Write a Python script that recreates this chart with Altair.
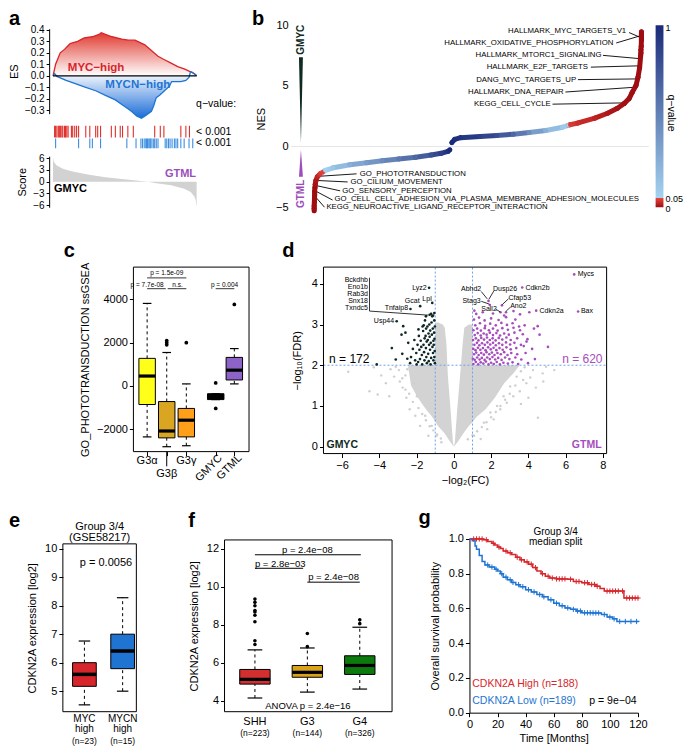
import altair as alt
import pandas as pd

FONT = "Liberation Sans"
RED = "#d7262b"
BLUE = "#1f74d2"
PURPLE = "#9c4dbb"
DARK = "#0f2a22"
GRAY = "#d3d3d3"
ONE = pd.DataFrame({"k": [0]})

# ---------------- data: panel a ----------------
es_rank_myc = [0, 1.8, 3.4, 5.0, 8.0, 10.3, 11.9, 17.1, 21.7, 27.4, 32.0, 33.6, 36.5, 41.1, 47.9, 52.5,
               57.1, 63.9, 68.5, 73.1, 77.6, 82.2, 86.8, 91.3, 94.7, 97.0, 99.3, 100]
es_myc = [0, 0.10, 0.15, 0.20, 0.23, 0.26, 0.28, 0.30, 0.33, 0.34, 0.36, 0.375, 0.36, 0.34, 0.32, 0.31,
          0.31, 0.27, 0.22, 0.17, 0.14, 0.11, 0.08, 0.06, 0.04, 0.03, 0.01, 0]
es_rank_mycn = [0, 1.1, 2.7, 9.1, 16.0, 22.8, 29.7, 36.5, 43.4, 47.9, 51.4, 54.8, 58.2, 61.6, 65.1, 68.5,
                70.1, 71.9, 74.2, 77.6, 81.1, 82.6, 89.0, 92.5, 94.7, 95.7, 98.2, 100]
es_mycn = [0, 0.02, -0.005, -0.04, -0.07, -0.10, -0.13, -0.17, -0.21, -0.25, -0.28, -0.31, -0.35, -0.37,
           -0.34, -0.31, -0.26, -0.19, -0.17, -0.13, -0.09, -0.05, -0.05, -0.04, -0.014, 0.035, 0.02, 0]
hits_myc = [1.1, 1.8, 2.7, 3.7, 4.6, 5.3, 6.2, 6.8, 8.0, 8.7, 9.6, 10.5, 12.8, 13.7, 15.1, 16.4, 17.8,
            22.8, 25.6, 29.7, 31.1, 33.1, 40.6, 43.4, 46.8, 48.4, 52.1, 55.9, 70.8, 74.7, 77.2, 89.0,
            92.5, 95.0]
hits_mycn = [1.8, 17.8, 25.6, 27.4, 33.1, 51.4, 57.8, 61.2, 62.3, 63.5, 64.6, 65.1, 65.8, 66.7, 67.4,
             68.0, 68.9, 70.1, 70.8, 71.9, 73.1, 78.1, 79.2, 80.4, 81.5, 82.9, 84.5, 85.6, 86.8, 89.0,
             91.3, 94.7, 97.3]
score_rank = [0, 0.6, 2.3, 6.8, 13.7, 25.1, 36.5, 47.9, 59.4, 66.2, 70.8, 82.2, 91.3, 95.9, 98.5, 99.3, 100]
score_val = [6.2, 5.0, 4.2, 3.3, 2.6, 1.8, 1.15, 0.7, 0.27, 0, -0.3, -0.9, -1.8, -2.6, -3.8, -4.6, -6.5]

# ---------------- data: panel b ----------------
b_rank = [6.44, 6.44, 6.44, 6.49, 6.52, 6.58, 6.58, 6.66, 6.74, 6.93, 7.32, 7.81, 8.22, 8.9, 9.59, 11.78,
          16.44, 21.1, 25.48, 30.14, 34.79, 39.18, 41.92, 43.84, 44.38,
          44.93, 45.75, 47.4, 52.88, 57.53, 62.19, 66.58, 71.23, 75.89, 77.53, 78.08, 80.27, 84.93, 88.49,
          91.23, 93.15, 94.52, 95.34, 96.44, 96.99, 97.45, 97.73, 97.81, 97.81, 97.89, 97.95, 97.95, 97.95, 97.95]
b_nes = [-5.3, -5.1, -4.9, -4.6, -4.3, -4.0, -3.7, -3.4, -3.1, -2.8, -2.5, -2.35, -2.23, -2.1, -1.96, -1.75,
         -1.5, -1.34, -1.18, -1.02, -0.89, -0.7, -0.56, -0.4, -0.27,
         0.32, 0.59, 0.73, 0.83, 0.91, 1.02, 1.16, 1.32, 1.59, 1.75, 1.8, 1.94, 2.34, 2.74, 3.15, 3.55, 3.95,
         4.44, 5.03, 5.7, 6.5, 7.45, 7.7, 7.95, 8.25, 8.8, 9.0, 9.2, 9.45]
b_q = [0, 0, 0, 0, 0, 0, 0, 0, 0.005, 0.01, 0.02, 0.03, 0.04, 0.045, 0.06, 0.12, 0.25, 0.35, 0.45, 0.55,
       0.65, 0.78, 0.88, 0.95, 1.0,
       1.0, 0.98, 0.95, 0.88, 0.8, 0.65, 0.45, 0.25, 0.1, 0.055, 0.04, 0.03, 0.02, 0.01, 0.005, 0.003, 0.002,
       0.001, 0, 0, 0, 0, 0, 0, 0, 0, 0, 0, 0]
b_up_names = ["HALLMARK_MYC_TARGETS_V1", "HALLMARK_OXIDATIVE_PHOSPHORYLATION", "HALLMARK_MTORC1_SIGNALING",
              "HALLMARK_E2F_TARGETS", "DANG_MYC_TARGETS_UP", "HALLMARK_DNA_REPAIR", "KEGG_CELL_CYCLE"]
b_up_x = [93.7, 90.1, 86.8, 83.0, 79.7, 76.2, 72.6]
b_up_y = [9.52, 8.53, 7.51, 6.54, 5.51, 4.49, 3.49]
b_lo_names = ["GO_PHOTOTRANSDUCTION", "GO_CILIUM_MOVEMENT", "GO_SENSORY_PERCEPTION",
              "GO_CELL_CELL_ADHESION_VIA_PLASMA_MEMBRANE_ADHESION_MOLECULES",
              "KEGG_NEUROACTIVE_LIGAND_RECEPTOR_INTERACTION"]
b_lo_x = [19.2, 16.6, 14.3, 12.1, 9.86]
b_lo_y = [-2.25, -2.92, -3.64, -4.33, -5.0]
b_leaders = [(94.5, 9.39, 97.5, 9.01), (90.9, 8.53, 97.7, 9.13), (87.2, 7.51, 97.5, 7.24),
             (83.8, 6.54, 97.5, 6.65), (80.2, 5.51, 96.8, 5.57), (76.7, 4.49, 96.4, 4.89),
             (73.1, 3.49, 94.1, 3.6), (18.3, -2.25, 6.85, -2.47), (15.8, -2.92, 6.66, -2.79),
             (13.7, -3.65, 6.58, -3.19), (11.6, -4.41, 6.38, -3.6), (9.32, -5.0, 6.38, -4.0)]

# ---------------- data: panel c ----------------
c_groups = ["G3α", "G3β", "G3γ", "GMYC", "GTML"]
c_pos = [1, 2, 3, 4.5, 5.45]
c_q1 = [-864, -2409, -2364, -636, 273]
c_med = [455, -2091, -1590, -500, 727]
c_q3 = [1273, -727, -1045, -364, 1318]
c_wlo = [-2364, -2818, -2773, -636, 91]
c_whi = [3818, 1545, 91, -364, 1727]
c_fill = ["#ffff1a", "#daa520", "#ff9f1a", "#000000", "#8e63c7"]
c_out_pos = [2, 2, 2, 3, 4.5, 4.5, 5.45]
c_out_val = [2100, 2000, 1900, 2000, 136, -1045, 3773]

# ---------------- data: panel d ----------------
d_lobe_left = [(-2.45, 1.95, 2.0), (-2.3, 1.5, 2.0), (-2.0, 1.25, 2.0), (-1.7, 1.05, 2.0), (-1.5, 0.92, 2.0),
               (-1.2, 0.75, 2.0), (-1.0, 0.62, 2.0), (-0.999, 0.62, 3.05), (-0.85, 0.51, 3.05),
               (-0.6, 0.38, 3.0), (-0.49, 0.32, 2.92), (-0.4, 0.26, 2.52), (-0.32, 0.2, 1.72),
               (-0.18, 0.11, 0.92), (-0.05, 0.03, 0.1), (0.0, 0.0, 0.0)]
d_lobe_right = [(0.0, 0.0, 0.0), (0.05, 0.03, 0.1), (0.18, 0.1, 0.92), (0.33, 0.2, 1.72), (0.47, 0.3, 2.52),
                (0.56, 0.36, 2.92), (0.8, 0.51, 3.0), (1.0, 0.6, 3.0), (1.001, 0.6, 2.0), (1.2, 0.72, 2.0),
                (1.7, 0.92, 2.0), (2.2, 1.2, 2.0), (2.7, 1.56, 2.0), (3.2, 1.8, 2.0), (3.5, 1.98, 2.0)]
d_gray_x = [-4.53, -4.09, -3.65, -3.47, -3.21, -2.95, -3.12, -2.77, -2.6, -5.67, -2.37, -2.07, -1.81, -1.37,
            -0.67, -2.16, -1.98, -1.54, -1.19, -0.93, 3.89, 3.54, 3.19, 2.84, 2.49, 2.14, 1.79, 1.44, 4.51,
            4.25, 4.95, 5.39, 4.77, 3.37, 3.72, 3.02, 2.67, 2.32, 1.96, 1.61, 1.09,
            -2.6, -2.5, -2.9, -2.4, -2.2, -1.9, -1.7, -1.5, -1.3, -1.1, -0.9, -0.7, -3.4, -3.9, -4.3, -2.55,
            -2.75, 3.6, 3.8, 4.1, 3.3, 3.0, 2.75, 2.5, 2.25, 2.0, 1.75, 1.5, 1.25, 1.0, 0.75, 4.4, 4.0, 3.6,
            4.8]
d_gray_y = [1.36, 1.28, 1.56, 1.24, 1.72, 1.88, 1.96, 1.68, 1.4, 1.84, 0.92, 0.76, 0.51, 0.27, 0.11, 1.56,
            1.24, 0.76, 0.51, 0.27, 1.56, 1.36, 1.24, 1.08, 0.92, 0.67, 0.43, 0.19, 0.71, 1.88, 1.96, 1.88,
            1.8, 1.72, 1.64, 1.48, 1.24, 1.0, 0.84, 0.59, 0.27,
            1.75, 1.9, 1.6, 1.3, 1.1, 0.95, 0.8, 0.65, 0.5, 0.4, 0.3, 0.2, 1.9, 1.75, 1.95, 1.2,
            1.45, 1.85, 1.95, 1.7, 1.5, 1.3, 1.15, 1.0, 0.85, 0.72, 0.6, 0.48, 0.38, 0.28, 0.18, 1.45, 1.2, 1.05,
            1.6]
d_down = [(-1.02, 2.05), (-1.05, 2.2), (-1.03, 2.35), (-1.08, 2.5), (-1.04, 2.65), (-1.06, 2.8), (-1.02, 2.95),
          (-1.05, 3.1), (-1.1, 2.12), (-1.12, 2.3), (-1.15, 2.45), (-1.1, 2.6), (-1.18, 2.75), (-1.13, 2.9),
          (-1.2, 3.05), (-1.16, 3.2), (-1.25, 2.02), (-1.22, 2.18), (-1.28, 2.38), (-1.24, 2.55), (-1.3, 2.7),
          (-1.27, 2.85), (-1.32, 3.0), (-1.35, 2.1), (-1.38, 2.28), (-1.33, 2.5), (-1.4, 2.62), (-1.36, 2.78),
          (-1.42, 2.95), (-1.45, 2.05), (-1.48, 2.2), (-1.5, 2.42), (-1.46, 2.58), (-1.52, 2.72), (-1.49, 2.9),
          (-1.55, 3.1), (-1.58, 2.12), (-1.6, 2.32), (-1.63, 2.5), (-1.57, 2.66), (-1.65, 2.84), (-1.7, 2.02),
          (-1.72, 2.25), (-1.75, 2.45), (-1.68, 2.95), (-1.78, 2.6), (-1.82, 2.15), (-1.85, 2.38), (-1.88, 2.72),
          (-1.92, 2.08), (-1.95, 2.5), (-2.02, 2.3), (-2.08, 2.12), (-2.12, 2.62), (-2.2, 2.4), (-2.3, 2.2),
          (-2.35, 2.05), (-2.45, 2.55), (-2.5, 2.16), (-2.6, 2.8), (-2.72, 2.96), (-2.77, 2.28), (-2.81, 2.75),
          (-3.12, 2.14), (-3.33, 2.42), (-4.14, 2.02), (-3.07, 3.08), (-2.33, 3.38), (-1.81, 3.45), (-1.33, 3.9),
          (-1.16, 3.53), (-1.3, 3.24), (-1.22, 3.26), (-1.12, 3.22), (-1.05, 3.28), (-1.5, 3.2), (-1.9, 2.88),
          (-2.0, 2.02), (-1.62, 2.98)]
d_up = [(1.05, 2.03), (1.18, 2.08), (1.31, 2.02), (1.44, 2.07), (1.58, 2.04), (1.72, 2.09), (1.86, 2.02),
        (2.0, 2.06), (2.14, 2.03), (2.3, 2.08), (2.47, 2.02), (2.66, 2.06), (2.9, 2.04), (3.15, 2.07),
        (3.45, 2.03), (3.98, 2.05), (1.02, 2.16), (1.12, 2.13), (1.25, 2.19), (1.38, 2.14), (1.5, 2.18),
        (1.65, 2.13), (1.79, 2.19), (1.93, 2.15), (2.07, 2.2), (2.22, 2.14), (2.38, 2.18), (2.56, 2.13),
        (2.75, 2.19), (2.98, 2.15), (3.3, 2.19), (3.62, 2.14), (1.08, 2.27), (1.2, 2.31), (1.33, 2.25),
        (1.47, 2.3), (1.61, 2.26), (1.75, 2.32), (1.9, 2.27), (2.04, 2.31), (2.18, 2.25), (2.34, 2.3),
        (2.52, 2.27), (2.7, 2.32), (2.88, 2.25), (3.08, 2.3), (3.4, 2.27), (3.85, 2.3), (1.04, 2.4),
        (1.16, 2.37), (1.29, 2.43), (1.42, 2.38), (1.56, 2.42), (1.7, 2.37), (1.84, 2.44), (1.98, 2.39),
        (2.13, 2.43), (2.28, 2.37), (2.45, 2.42), (2.62, 2.38), (2.82, 2.44), (3.05, 2.39), (3.35, 2.42),
        (4.2, 2.4), (5.05, 2.45), (1.1, 2.5), (1.24, 2.55), (1.37, 2.49), (1.51, 2.54), (1.66, 2.5),
        (1.8, 2.56), (1.95, 2.51), (2.1, 2.55), (2.25, 2.49), (2.42, 2.54), (2.6, 2.5), (2.8, 2.56),
        (3.02, 2.51), (3.25, 2.55), (3.6, 2.5), (1.03, 2.62), (1.18, 2.66), (1.32, 2.61), (1.47, 2.67),
        (1.62, 2.63), (1.78, 2.68), (1.93, 2.62), (2.08, 2.66), (2.24, 2.61), (2.41, 2.67), (2.6, 2.63),
        (2.82, 2.68), (3.05, 2.62), (3.4, 2.66), (3.95, 2.64), (1.12, 2.74), (1.28, 2.79), (1.44, 2.73),
        (1.6, 2.78), (1.76, 2.75), (1.93, 2.8), (2.1, 2.74), (2.28, 2.79), (2.48, 2.73), (2.7, 2.78),
        (2.95, 2.75), (3.25, 2.8), (3.7, 2.76), (4.6, 2.75), (1.05, 2.86), (1.25, 2.9), (1.45, 2.85),
        (1.66, 2.91), (1.88, 2.86), (2.1, 2.9), (2.35, 2.85), (2.6, 2.91), (2.9, 2.87), (3.2, 2.92),
        (3.55, 2.86), (4.3, 2.9), (1.15, 2.98), (1.4, 3.03), (1.68, 2.97), (1.95, 3.02), (2.25, 2.98),
        (2.55, 3.04), (2.85, 2.99), (3.15, 3.03), (3.8, 2.98), (4.5, 2.96), (1.08, 3.12), (1.35, 3.17),
        (1.65, 3.1), (2.0, 3.15), (2.4, 3.11), (2.8, 3.18), (3.3, 3.12), (3.55, 3.25), (1.2, 3.26),
        (1.55, 3.3), (2.1, 3.27), (2.7, 3.22), (3.2, 3.33), (4.05, 3.3), (1.1, 3.34), (3.75, 2.47),
        (4.35, 2.15), (3.9, 2.58), (3.5, 2.95), (1.86, 3.58), (1.93, 3.48), (2.58, 3.47), (2.5, 3.3),
        (2.8, 3.3), (3.67, 3.91), (4.42, 3.34), (6.46, 4.23), (6.67, 3.32)]
d_lbl_names = ["Bckdhb", "Eno1b", "Rab3d", "Snx18", "Txndc5", "Usp44", "Tnfaip8", "Gcat", "Lpl", "Lyz2",
               "Abhd2", "Stag3", "Dusp26", "Cdkn2b", "Cfap53", "Sall2", "Ano2", "Cdkn2a", "Mycs", "Bax"]
d_lbl_x = [-4.61, -4.61, -4.61, -4.61, -4.61, -3.21, -2.46, -1.84, -1.19, -1.46, 1.47, 1.44, 2.1, 3.84,
           2.93, 1.47, 3.02, 4.6, 6.65, 6.82]
d_lbl_y = [4.09, 3.91, 3.74, 3.57, 3.40, 3.08, 3.41, 3.57, 3.62, 3.9, 3.86, 3.57, 3.87, 3.89, 3.66, 3.38,
           3.46, 3.34, 4.23, 3.33]
d_lbl_align = ["right"] * 12 + ["left"] * 8
d_leaders = [(-4.53, 4.15, -4.53, 3.33), (-4.53, 3.33, -1.37, 3.23), (1.47, 3.81, 1.79, 3.63),
             (2.14, 3.82, 1.88, 3.62), (1.47, 3.57, 1.91, 3.5), (2.93, 3.63, 2.6, 3.49),
             (2.23, 3.38, 2.49, 3.31), (3.02, 3.42, 2.81, 3.33)]

# ---------------- data: panel e ----------------
e_groups = ["MYC high", "MYCN high"]
e_pos = [1, 2]
e_q1 = [5.17, 5.79]
e_med = [5.59, 6.41]
e_q3 = [6.0, 7.0]
e_wlo = [4.52, 5.0]
e_whi = [6.76, 8.28]
e_fill = ["#d7262b", "#1f74d2"]

# ---------------- data: panel f ----------------
f_groups = ["SHH", "G3", "G4"]
f_pos = [1, 2, 3]
f_q1 = [4.88, 5.24, 5.39]
f_med = [5.13, 5.5, 5.86]
f_q3 = [5.65, 5.86, 6.37]
f_wlo = [4.15, 4.46, 4.62]
f_whi = [6.68, 6.78, 7.87]
f_fill = ["#d32f2f", "#d9a21b", "#0d7a0d"]
f_out_pos = [1, 1, 1, 1, 1, 1, 1, 1, 1, 2, 2, 3, 3]
f_out_val = [9.35, 9.18, 9.0, 8.75, 8.67, 8.5, 8.16, 7.16, 6.96, 7.54, 6.85, 8.26, 8.06]

# ---------------- data: panel g ----------------
g_hi_t = [0, 8, 10, 13, 16, 18, 20, 22, 24, 27, 30, 33, 36, 39, 42, 45, 48, 51, 54, 57, 62, 70, 74, 80, 85,
          90, 93, 96, 108, 110, 120.5]
g_hi_s = [1.0, 1.0, 0.995, 0.985, 0.975, 0.965, 0.953, 0.945, 0.93, 0.92, 0.91, 0.895, 0.88, 0.868, 0.855,
          0.835, 0.815, 0.80, 0.785, 0.775, 0.77, 0.768, 0.755, 0.748, 0.738, 0.728, 0.715, 0.70, 0.70, 0.66,
          0.66]
g_lo_t = [0, 2, 4, 5, 7, 9, 11, 14, 18, 20, 22, 24, 27, 30, 33, 36, 40, 44, 48, 52, 56, 60, 64, 68, 72, 76,
          80, 88, 94, 98, 102, 105, 120.5]
g_lo_s = [1.0, 0.99, 0.96, 0.94, 0.905, 0.87, 0.85, 0.838, 0.825, 0.815, 0.8, 0.78, 0.765, 0.75, 0.737,
          0.725, 0.708, 0.695, 0.68, 0.667, 0.65, 0.63, 0.615, 0.603, 0.595, 0.585, 0.575, 0.574, 0.565, 0.55,
          0.54, 0.525, 0.523]
g_hi_cens = [3, 5, 7, 9, 12, 17, 21, 26, 29, 34, 37, 41, 44, 47, 52, 56, 59, 62, 64, 66, 68, 72, 76, 78, 82,
             84, 87, 89, 91, 98, 100, 102, 104, 106, 109, 112, 114, 116, 118, 120]
g_lo_cens = [13, 16, 19, 23, 26, 29, 31, 35, 38, 42, 46, 50, 53, 58, 62, 66, 70, 74, 77, 79, 82, 84, 86, 88,
             90, 92, 96, 100, 103, 107, 111, 115, 119]

# ---------------- canvas: one layered chart, every panel has its own scales ----------------
W, H = 677, 740
KX = W / 691.0
KY = H / 754.0


def P(x):
    return round((x - 1) * KX, 2)


def Q(y):
    return round((y - 1) * KY, 2)


def scales(xdom, xpx, ydom, ypx):
    xs = alt.Scale(domain=xdom, range=[P(xpx[0]), P(xpx[1])], nice=False, zero=False)
    ys = alt.Scale(domain=ydom, range=[Q(ypx[1]), Q(ypx[0])], nice=False, zero=False)

    def X(f, ax=None):
        return alt.X(f, type="quantitative", scale=xs, axis=ax)

    def Y(f, ax=None):
        return alt.Y(f, type="quantitative", scale=ys, axis=ax)
    return X, Y


def left_axis(xpx, **kw):
    return alt.Axis(orient="left", offset=-P(xpx), grid=False, labelFlush=False, **kw)


def bottom_axis(ypx, **kw):
    return alt.Axis(orient="bottom", offset=round(Q(ypx) - H, 2), grid=False, labelFlush=False, **kw)


def label(text, x, y, size=10.0, color="black", weight="normal", align="left", baseline="middle", angle=0):
    kw = dict(text=text, fontSize=size, color=color, fontWeight=weight, align=align,
              baseline=baseline, font=FONT)
    if angle:
        kw["angle"] = angle
    return alt.Chart(ONE).mark_text(**kw).encode(x=alt.value(P(x)), y=alt.value(Q(y)))


def letter(t, x, y):
    return label(t, x, y, size=20, weight="bold", baseline="alphabetic")


def frame(x0, x1, y0, y1):
    return alt.Chart(ONE).mark_rect(fillOpacity=0, stroke="black", strokeWidth=1).encode(
        x=alt.value(P(x0)), x2=alt.value(P(x1)), y=alt.value(Q(y0)), y2=alt.value(Q(y1)))


def box_layers(groups, pos, q1, med, q3, wlo, whi, fills, X, Y, half, cap, dash, yaxis, xaxis, medw=3.0):
    d = pd.DataFrame({"g": groups, "pos": pos, "q1": q1, "med": med, "q3": q3, "wlo": wlo, "whi": whi,
                      "fill": fills})
    d["xl"] = d["pos"] - half
    d["xr"] = d["pos"] + half
    d["cl"] = d["pos"] - cap
    d["cr"] = d["pos"] + cap
    base = alt.Chart(d)
    boxes = base.mark_rect(stroke="black", strokeWidth=1).encode(
        x=X("xl", xaxis), x2="xr", y=Y("q1", yaxis), y2="q3", fill=alt.Fill("fill:N", scale=None))
    w_hi = base.mark_rule(color="black", strokeDash=dash, strokeWidth=1).encode(x=X("pos"), y=Y("q3"), y2="whi")
    w_lo = base.mark_rule(color="black", strokeDash=dash, strokeWidth=1).encode(x=X("pos"), y=Y("wlo"), y2="q1")
    c_hi = base.mark_rule(color="black", strokeWidth=1.2).encode(x=X("cl"), x2="cr", y=Y("whi"))
    c_lo = base.mark_rule(color="black", strokeWidth=1.2).encode(x=X("cl"), x2="cr", y=Y("wlo"))
    meds = base.mark_rule(color="black", strokeWidth=medw).encode(x=X("xl"), x2="xr", y=Y("med"))
    return [boxes, w_hi, w_lo, c_hi, c_lo, meds]


layers = []

# ================= panel a =================
XA, YES = scales([-2.7, 101], (43, 195), [-0.33, 0.41], (22.1, 108.7))
_, YBC = scales([-2.7, 101], (43, 195), [0, 1], (108.7, 152))
_, YSC = scales([-2.7, 101], (43, 195), [-6.5, 6.5], (152, 204))
es_axis = left_axis(43, values=[0.4, 0.3, 0.2, 0.1, 0.0, -0.1, -0.2, -0.3], format=".1f", title="ES",
                    labelFontSize=10, tickSize=3, titlePadding=5, domain=True)
score_axis = left_axis(43, values=[6, 3, 0, -3, -6], format="d", title="Score", labelFontSize=10, tickSize=3,
                       titlePadding=5, domain=True)
df_myc = pd.DataFrame({"rank": es_rank_myc, "es": es_myc, "zero": 0.0})
df_mycn = pd.DataFrame({"rank": es_rank_mycn, "es": es_mycn, "zero": 0.0})
grad_red = alt.Gradient(gradient="linear", stops=[alt.GradientStop(color="#e03a30", offset=0),
                                                  alt.GradientStop(color="#ffffff", offset=1)],
                        x1=0, x2=0, y1=0, y2=1)
grad_blue = alt.Gradient(gradient="linear", stops=[alt.GradientStop(color="#ffffff", offset=0),
                                                   alt.GradientStop(color="#1a6cd8", offset=1)],
                         x1=0, x2=0, y1=0, y2=1)
bc_df = pd.DataFrame({
    "rank": hits_myc + hits_mycn,
    "y0": [0.716] * len(hits_myc) + [0.416] * len(hits_mycn),
    "y1": [0.439] * len(hits_myc) + [0.185] * len(hits_mycn),
    "c": ["#e0302a"] * len(hits_myc) + ["#3b8ee0"] * len(hits_mycn),
})
score_df = pd.DataFrame({"rank": score_rank, "s": score_val, "zero": 0.0})
layers += [
    alt.Chart(df_myc).mark_area(fill=grad_red).encode(x=XA("rank"), y=YES("es", es_axis), y2="zero"),
    alt.Chart(df_mycn).mark_area(fill=grad_blue).encode(x=XA("rank"), y=YES("es"), y2="zero"),
    alt.Chart(df_myc).mark_line(color=RED, strokeWidth=1.3).encode(x=XA("rank"), y=YES("es")),
    alt.Chart(df_mycn).mark_line(color=BLUE, strokeWidth=1.3).encode(x=XA("rank"), y=YES("es")),
    alt.Chart(pd.DataFrame({"r0": [0], "r1": [100], "z": [0]})).mark_rule(
        color="black", strokeWidth=1.3).encode(x=XA("r0"), x2="r1", y=YES("z")),
    alt.Chart(pd.DataFrame({"rank": [30.0, 59.0], "es": [0.068, -0.077], "t": ["MYC−high", "MYCN−high"],
                            "c": [RED, BLUE]})).mark_text(fontSize=11.5, fontWeight="bold", font=FONT).encode(
        x=XA("rank"), y=YES("es"), text="t:N", color=alt.Color("c:N", scale=None)),
    alt.Chart(bc_df).mark_rule(strokeWidth=1.1).encode(
        x=XA("rank"), y=YBC("y0"), y2="y1", color=alt.Color("c:N", scale=None)),
    alt.Chart(score_df).mark_area(color="#d2d2d2").encode(x=XA("rank"), y=YSC("s", score_axis), y2="zero"),
    alt.Chart(pd.DataFrame({"rank": [0.7], "s": [-1.75]})).mark_text(
        text="GMYC", fontSize=11, fontWeight="bold", align="left", font=FONT, color="black").encode(
        x=XA("rank"), y=YSC("s")),
    alt.Chart(pd.DataFrame({"rank": [99.6], "s": [2.0]})).mark_text(
        text="GTML", fontSize=11, fontWeight="bold", align="right", font=FONT, color=PURPLE).encode(
        x=XA("rank"), y=YSC("s")),
    label("q−value:", 193, 99, size=10.5),
    label("< 0.001", 193, 127, size=10.5),
    label("< 0.001", 193, 138.5, size=10.5),
    letter("a", 2, 18),
]

# ================= panel b =================
XB, YB = scales([0, 100], (290, 655), [-5.6, 10.2], (16, 211.4))
qscale = alt.Scale(domain=[0, 0.05, 0.0501, 1], range=["#9e0d12", "#e8453c", "#a5d3f0", "#1b2a78"],
                   interpolate="rgb")
b_df = pd.DataFrame({"rank": b_rank, "nes": b_nes, "q": b_q})
seg_rows = []
for i in range(len(b_rank) - 1):
    if (b_nes[i] > 0) == (b_nes[i + 1] > 0):
        seg_rows.append({"x1": b_rank[i], "y1": b_nes[i], "x2": b_rank[i + 1], "y2": b_nes[i + 1],
                         "q": (b_q[i] + b_q[i + 1]) / 2})
seg_df = pd.DataFrame(seg_rows)
b_axis = left_axis(290, values=[10, 5, 0, -5], title="NES", domain=False, ticks=False, labelPadding=3,
                   titlePadding=9, labelFontSize=11)
wedge_top = pd.DataFrame({"nes": [0.3, 7.35], "xa": [2.74, 2.19], "xb": [2.74, 3.29]})
wedge_bot = pd.DataFrame({"nes": [-0.27, -2.5], "xa": [2.74, 2.19], "xb": [2.74, 3.29]})
bar_grad = alt.Gradient(gradient="linear", stops=[
    alt.GradientStop(color="#9e0d12", offset=0), alt.GradientStop(color="#e8453c", offset=0.05),
    alt.GradientStop(color="#a5d3f0", offset=0.0501), alt.GradientStop(color="#1b2a78", offset=1)],
    x1=0, x2=0, y1=1, y2=0)
layers += [
    alt.Chart(pd.DataFrame({"x0": [0], "x1": [100], "z": [0]})).mark_rule(color="#e6e6e6", strokeWidth=1).encode(
        x=XB("x0"), x2="x1", y=YB("z", b_axis)),
    alt.Chart(wedge_top).mark_area(orient="horizontal", color=DARK).encode(y=YB("nes"), x=XB("xa"), x2="xb"),
    alt.Chart(wedge_bot).mark_area(orient="horizontal", color=PURPLE).encode(y=YB("nes"), x=XB("xa"), x2="xb"),
    alt.Chart(pd.DataFrame({"x": [2.74, 2.74], "y": [8.8, -3.9], "t": ["GMYC", "GTML"], "c": [DARK, PURPLE]}))
    .mark_text(angle=270, fontSize=10, fontWeight="bold", font=FONT).encode(
        x=XB("x"), y=YB("y"), text="t:N", color=alt.Color("c:N", scale=None)),
    alt.Chart(pd.DataFrame(b_leaders, columns=["x1", "y1", "x2", "y2"])).mark_rule(
        color="black", strokeWidth=0.9).encode(x=XB("x1"), x2="x2", y=YB("y1"), y2="y2"),
    alt.Chart(seg_df).mark_rule(strokeWidth=5, strokeCap="round").encode(
        x=XB("x1"), x2="x2", y=YB("y1"), y2="y2", color=alt.Color("q:Q", scale=qscale, legend=None)),
    alt.Chart(b_df).mark_circle(size=22, opacity=1).encode(
        x=XB("rank"), y=YB("nes"), color=alt.Color("q:Q", scale=qscale, legend=None)),
    alt.Chart(pd.DataFrame({"x": b_up_x, "y": b_up_y, "t": b_up_names})).mark_text(
        align="right", fontSize=7.8, font=FONT, color="black").encode(x=XB("x"), y=YB("y"), text="t:N"),
    alt.Chart(pd.DataFrame({"x": b_lo_x, "y": b_lo_y, "t": b_lo_names})).mark_text(
        align="left", fontSize=7.8, font=FONT, color="black").encode(x=XB("x"), y=YB("y"), text="t:N"),
    alt.Chart(ONE).mark_rect(fill=bar_grad).encode(
        x=alt.value(P(662)), x2=alt.value(P(670)), y=alt.value(Q(18.5)), y2=alt.value(Q(204))),
    label("1", 672, 21.7, size=9),
    label("0.05", 672, 195.5, size=9),
    label("0", 672, 205.8, size=9),
    label("q−value", 678, 108, size=10.5, align="center", angle=90),
    letter("b", 250, 18),
]

# ================= panel c =================
XC, YC = scales([0.3, 6.2], (129, 247), [-3045, 5500], (265, 453))
c_yaxis = left_axis(129, values=[-2000, 0, 2000, 4000], format="d", title="GO_PHOTOTRANSDUCTION ssGSEA",
                    domain=False, tickSize=4, titlePadding=6, labelFontSize=11)
c_xaxis = bottom_axis(453, values=c_pos, labels=False, domain=False, tickSize=4, title=None)
layers += box_layers(c_groups, c_pos, c_q1, c_med, c_q3, c_wlo, c_whi, c_fill, XC, YC,
                     half=0.42, cap=0.22, dash=[3, 3], yaxis=c_yaxis, xaxis=c_xaxis, medw=3.2)
layers += [
    alt.Chart(pd.DataFrame({"pos": c_out_pos, "v": c_out_val})).mark_circle(
        size=14, color="black", opacity=1).encode(x=XC("pos"), y=YC("v")),
    alt.Chart(pd.DataFrame({"x1": [1, 1, 2.05, 4.5], "x2": [3, 1.95, 3, 5.45],
                            "y": [5000, 4500, 4500, 4500]})).mark_rule(
        color="black", strokeWidth=0.8).encode(x=XC("x1"), x2="x2", y=YC("y")),
    alt.Chart(pd.DataFrame({"x": [2.0, 1.0, 2.55, 4.95], "y": [5227, 4682, 4682, 4682],
                            "t": ["p = 1.5e-09", "p = 7.7e-08", "n.s.", "p = 0.004"]})).mark_text(
        fontSize=6.5, font=FONT, color="black").encode(x=XC("x"), y=YC("y"), text="t:N"),
    alt.Chart(pd.DataFrame({"x": [1, 3], "t": ["G3α", "G3γ"]})).mark_text(
        fontSize=11, font=FONT, color="black").encode(x=XC("x"), y=alt.value(Q(463)), text="t:N"),
    alt.Chart(pd.DataFrame({"x": [2], "t": ["G3β"]})).mark_text(
        fontSize=11, font=FONT, color="black").encode(x=XC("x"), y=alt.value(Q(476)), text="t:N"),
    alt.Chart(pd.DataFrame({"x": [2]})).mark_rule(color="black", strokeWidth=1).encode(
        x=XC("x"), y=alt.value(Q(453)), y2=alt.value(Q(468))),
    label("GMYC", 218, 458, size=11, align="right", angle=315),
    label("GTML", 238, 458, size=11, align="right", angle=315),
    frame(129, 247, 265, 453),
    letter("c", 58, 255),
]

# ================= panel d =================
XD, YD = scales([-7.0, 8.2], (323, 612), [-0.17, 4.41], (265, 455))
d_xaxis = bottom_axis(455, values=[-6, -4, -2, 0, 2, 4, 6, 8], title="−log₂(FC)", domain=False, tickSize=4,
                      titlePadding=4, labelFontSize=11)
d_yaxis = left_axis(323, values=[0, 1, 2, 3, 4], title="−log₁₀(FDR)", domain=False, tickSize=4,
                    titlePadding=9, labelFontSize=11)
lbl_df = pd.DataFrame({"x": d_lbl_x, "y": d_lbl_y, "t": d_lbl_names, "a": d_lbl_align})
layers += [
    alt.Chart(pd.DataFrame(d_lobe_left, columns=["x", "lo", "hi"])).mark_area(color=GRAY, opacity=1).encode(
        x=XD("x", d_xaxis), y=YD("lo", d_yaxis), y2="hi"),
    alt.Chart(pd.DataFrame(d_lobe_right, columns=["x", "lo", "hi"])).mark_area(color=GRAY, opacity=1).encode(
        x=XD("x"), y=YD("lo"), y2="hi"),
    alt.Chart(pd.DataFrame({"x": d_gray_x, "y": d_gray_y})).mark_circle(
        size=6, color="#cfcfcf", opacity=1).encode(x=XD("x"), y=YD("y")),
    alt.Chart(pd.DataFrame({"v": [-1, 1], "y0": [-0.17, -0.17], "y1": [4.41, 4.41]})).mark_rule(
        color="#6fa3ea", strokeDash=[2, 2], strokeWidth=1).encode(x=XD("v"), y=YD("y0"), y2="y1"),
    alt.Chart(pd.DataFrame({"x0": [-7.0], "x1": [8.2], "v": [2]})).mark_rule(
        color="#6fa3ea", strokeDash=[2, 2], strokeWidth=1).encode(x=XD("x0"), x2="x1", y=YD("v")),
    alt.Chart(pd.DataFrame(d_down, columns=["x", "y"])).mark_circle(
        size=7, color="#0d2a22", opacity=1).encode(x=XD("x"), y=YD("y")),
    alt.Chart(pd.DataFrame(d_up, columns=["x", "y"])).mark_circle(
        size=7, color="#a64dbd", opacity=1).encode(x=XD("x"), y=YD("y")),
    alt.Chart(pd.DataFrame(d_leaders, columns=["x1", "y1", "x2", "y2"])).mark_rule(
        color="black", strokeWidth=0.8).encode(x=XD("x1"), x2="x2", y=YD("y1"), y2="y2"),
    alt.Chart(lbl_df[lbl_df["a"] == "right"]).mark_text(
        align="right", fontSize=7, font=FONT, color="black").encode(x=XD("x"), y=YD("y"), text="t:N"),
    alt.Chart(lbl_df[lbl_df["a"] == "left"]).mark_text(
        align="left", fontSize=7, font=FONT, color="black").encode(x=XD("x"), y=YD("y"), text="t:N"),
    alt.Chart(pd.DataFrame({"x": [-6.7], "y": [2.16]})).mark_text(
        text="n = 172", align="left", fontSize=12, font=FONT, color="black").encode(x=XD("x"), y=YD("y")),
    alt.Chart(pd.DataFrame({"x": [7.98], "y": [2.16]})).mark_text(
        text="n = 620", align="right", fontSize=12, font=FONT, color="#a64dbd").encode(x=XD("x"), y=YD("y")),
    alt.Chart(pd.DataFrame({"x": [-6.84], "y": [0.03]})).mark_text(
        text="GMYC", align="left", fontSize=10.5, fontWeight="bold", font=FONT, color=DARK).encode(
        x=XD("x"), y=YD("y")),
    alt.Chart(pd.DataFrame({"x": [7.93], "y": [0.03]})).mark_text(
        text="GTML", align="right", fontSize=10.5, fontWeight="bold", font=FONT, color="#a64dbd").encode(
        x=XD("x"), y=YD("y")),
    frame(323, 612, 265, 455),
    letter("d", 281, 255),
]

# ================= panel e =================
XE, YE = scales([0.436, 2.359], (57, 132), [4.28, 10.17], (547, 718))
e_yaxis = left_axis(57, values=[5, 6, 7, 8, 9, 10], title="CDKN2A expression [log2]", domain=False,
                    tickSize=4, titlePadding=7, labelFontSize=11)
layers += box_layers(e_groups, e_pos, e_q1, e_med, e_q3, e_wlo, e_whi, e_fill, XE, YE,
                     half=0.31, cap=0.15, dash=[3, 3], yaxis=e_yaxis, xaxis=None, medw=3.5)
layers += [
    alt.Chart(pd.DataFrame({"x": [1, 2], "t": ["MYC", "MYCN"]})).mark_text(
        fontSize=10, font=FONT, color="black").encode(x=XE("x"), y=alt.value(Q(725.5)), text="t:N"),
    alt.Chart(pd.DataFrame({"x": [1, 2], "t": ["high", "high"]})).mark_text(
        fontSize=10, font=FONT, color="black").encode(x=XE("x"), y=alt.value(Q(736)), text="t:N"),
    alt.Chart(pd.DataFrame({"x": [1, 2], "t": ["(n=23)", "(n=15)"]})).mark_text(
        fontSize=8.5, font=FONT, color="black").encode(x=XE("x"), y=alt.value(Q(747.5)), text="t:N"),
    frame(57, 132, 547, 718),
    label("Group 3/4", 94.5, 530, size=11, align="center"),
    label("(GSE58217)", 94.5, 541, size=11, align="center"),
    label("p = 0.0056", 101, 567, size=11, align="center"),
    letter("e", 2, 530),
]

# ================= panel f =================
XF, YF = scales([0.42, 3.616], (222, 393), [3.43, 12.46], (543, 718))
f_yaxis = left_axis(222, values=[4, 6, 8, 10, 12], title="CDKN2A expression [log2]", domain=False,
                    tickSize=4, titlePadding=7, labelFontSize=11)
layers += box_layers(f_groups, f_pos, f_q1, f_med, f_q3, f_wlo, f_whi, f_fill, XF, YF,
                     half=0.29, cap=0.14, dash=[3, 3], yaxis=f_yaxis, xaxis=None, medw=3.2)
layers += [
    alt.Chart(pd.DataFrame({"pos": f_out_pos, "v": f_out_val})).mark_circle(
        size=13, color="black", opacity=1).encode(x=XF("pos"), y=YF("v")),
    alt.Chart(pd.DataFrame({"x1": [1, 1, 2.0], "x2": [3.02, 1.92, 3.0], "y": [11.68, 10.97, 10.24]})).mark_rule(
        color="black", strokeWidth=1).encode(x=XF("x1"), x2="x2", y=YF("y")),
    alt.Chart(pd.DataFrame({"x": [2.0, 2.5], "y": [11.95, 10.5], "t": ["p = 2.4e−08", "p = 2.4e−08"]})).mark_text(
        fontSize=9.5, font=FONT, color="black").encode(x=XF("x"), y=YF("y"), text="t:N"),
    alt.Chart(pd.DataFrame({"x": [1.0], "y": [11.22], "t": ["p = 2.8e−03"]})).mark_text(
        fontSize=9.5, font=FONT, color="black", align="left").encode(x=XF("x"), y=YF("y"), text="t:N"),
    alt.Chart(pd.DataFrame({"x": [2.01], "y": [3.74]})).mark_text(
        text="ANOVA p = 2.4e−16", fontSize=9.5, font=FONT, color="black").encode(x=XF("x"), y=YF("y")),
    alt.Chart(pd.DataFrame({"x": [1, 2, 3], "t": f_groups})).mark_text(
        fontSize=11, font=FONT, color="black").encode(x=XF("x"), y=alt.value(Q(728)), text="t:N"),
    alt.Chart(pd.DataFrame({"x": [1, 2, 3], "t": ["(n=223)", "(n=144)", "(n=326)"]})).mark_text(
        fontSize=8.5, font=FONT, color="black").encode(x=XF("x"), y=alt.value(Q(740)), text="t:N"),
    frame(222, 393, 543, 718),
    letter("f", 185, 530),
]

# ================= panel g =================
XG, YG = scales([0, 120], (472, 644), [0, 1], (542, 719))


def step_at(ts, ss, t):
    v = ss[0]
    for ti, si in zip(ts, ss):
        if ti <= t:
            v = si
    return v


g_cens_hi = pd.DataFrame({"t": g_hi_cens, "s": [step_at(g_hi_t, g_hi_s, t) for t in g_hi_cens]})
g_cens_lo = pd.DataFrame({"t": g_lo_cens, "s": [step_at(g_lo_t, g_lo_s, t) for t in g_lo_cens]})
g_xaxis = bottom_axis(719, values=[0, 20, 40, 60, 80, 100, 120], title="Time [Months]", tickSize=4,
                      titlePadding=3, labelFontSize=11, domain=True)
g_yaxis = left_axis(472, values=[0, 0.2, 0.4, 0.6, 0.8, 1.0], format=".1f",
                    title="Overall survival probability", tickSize=4, titlePadding=8, labelFontSize=11,
                    domain=True)
PLUS = "M-1,0L1,0M0,-1L0,1"
layers += [
    alt.Chart(pd.DataFrame({"t": g_hi_t, "s": g_hi_s})).mark_line(
        interpolate="step-after", strokeWidth=1.5, color=RED).encode(x=XG("t", g_xaxis), y=YG("s", g_yaxis)),
    alt.Chart(pd.DataFrame({"t": g_lo_t, "s": g_lo_s})).mark_line(
        interpolate="step-after", strokeWidth=1.5, color=BLUE).encode(x=XG("t"), y=YG("s")),
    alt.Chart(g_cens_hi).mark_point(shape=PLUS, size=28, filled=False, strokeWidth=1, opacity=1,
                                    color=RED).encode(x=XG("t"), y=YG("s")),
    alt.Chart(g_cens_lo).mark_point(shape=PLUS, size=28, filled=False, strokeWidth=1, opacity=1,
                                    color=BLUE).encode(x=XG("t"), y=YG("s")),
    alt.Chart(pd.DataFrame({"t": [2], "s": [0.164]})).mark_text(
        text="CDKN2A High (n=188)", align="left", fontSize=10.5, font=FONT, color=RED).encode(
        x=XG("t"), y=YG("s")),
    alt.Chart(pd.DataFrame({"t": [2], "s": [0.068]})).mark_text(
        text="CDKN2A Low (n=189)", align="left", fontSize=10.5, font=FONT, color=BLUE).encode(
        x=XG("t"), y=YG("s")),
    alt.Chart(pd.DataFrame({"t": [119], "s": [0.068]})).mark_text(
        text="p = 9e−04", align="right", fontSize=10.5, font=FONT, color="black").encode(x=XG("t"), y=YG("s")),
    label("Group 3/4", 560, 535, size=10, align="center"),
    label("median split", 560, 545, size=10, align="center"),
    letter("g", 420, 527),
]

chart = alt.layer(*layers).resolve_scale(x="independent", y="independent").properties(
    width=W, height=H, padding=0, autosize=alt.AutoSizeParams(type="none"))
chart = (chart.configure(font=FONT)
         .configure_view(stroke=None)
         .configure_axis(labelFont=FONT, titleFont=FONT, labelFontSize=11, titleFontSize=11,
                         titleFontWeight="normal", labelColor="black", titleColor="black",
                         tickColor="black", domainColor="black", grid=False, labelFlush=False))
chart.save("out.html", embed_options={"renderer": "svg", "actions": False})
